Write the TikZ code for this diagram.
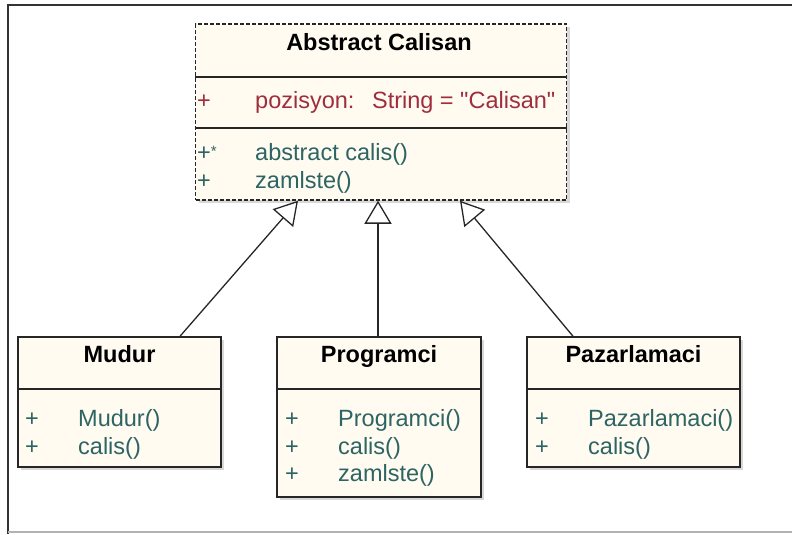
\documentclass[tikz,border=0pt]{standalone}
\usepackage{fontspec}
\setmainfont{Liberation Sans}[Ligatures=TeXOff]
\usetikzlibrary{arrows.meta,shadows}
\definecolor{classfill}{RGB}{255,251,240}
\definecolor{attrred}{RGB}{160,45,60}
\definecolor{opteal}{RGB}{45,100,100}

\begin{document}
\begin{tikzpicture}[x=1pt, y=-1pt, every node/.style={font=\fontsize{23.5}{27}\selectfont, inner sep=0pt},
	classbox/.style={draw=black!85, line width=1.5pt, fill=classfill, drop shadow={shadow xshift=3pt, shadow yshift=-3pt, fill=black!30}},
	title/.style={font=\fontsize{23.5}{27}\selectfont\bfseries, anchor=base},
	vis/.style={anchor=base},
	member/.style={anchor=base west},
	extends/.style={line width=1.3pt, draw=black!85, -{Triangle[open, length=23pt, width=27pt, fill=white]}}]
	\useasboundingbox (0,0) rectangle (792,535);
	% window frame
	\draw[black!80, line width=1.6pt] (8,534) -- (8,5) -- (792,5);
	\draw[black!30, line width=1.2pt] (8,532) -- (792,532);
	% classes
	\node[classbox, dash pattern=on 4pt off 2pt, minimum width=371pt, minimum height=176pt] (calisan) at (381,112) {};
	\node[classbox, minimum width=203pt, minimum height=130pt] (mudur) at (119.5,402) {};
	\node[classbox, minimum width=204pt, minimum height=160pt] (programci) at (379,417) {};
	\node[classbox, minimum width=213pt, minimum height=130pt] (pazarlamaci) at (633.5,402) {};
	\foreach \y in {77,128} {\draw[black!85, line width=1.5pt] (calisan.west |- 0,\y) -- (calisan.east |- 0,\y);}
	\foreach \c in {mudur,programci,pazarlamaci} {\draw[black!85, line width=1.5pt] (\c.west |- 0,389) -- (\c.east |- 0,389);}
	% Abstract Calisan
	\node[title] (c-title) at (379,51) {Abstract Calisan};
	\node[vis, attrred] (c-v1) at (204,108) {+};
	\node[member, attrred] (c-attr) at (255,108) {pozisyon:\hspace{0.75em}String = "Calisan"};
	\node[member, opteal] (c-v2) at (197,160) {+\raisebox{4pt}{\fontsize{15}{15}\selectfont*}};
	\node[member, opteal] (c-op1) at (255,160) {abstract calis()};
	\node[vis, opteal] (c-v3) at (204,188) {+};
	\node[member, opteal] (c-op2) at (255,188) {zamlste()};
	% Mudur
	\node[title] (m-title) at (119.5,362) {Mudur};
	\foreach \y/\txt [count=\i] in {426/{Mudur()}, 454/{calis()}} {
		\node[vis, opteal] (m-v\i) at (32,\y) {+};
		\node[member, opteal] (m-op\i) at (78,\y) {\txt};
	}
	% Programci
	\node[title] (p-title) at (379,362) {Programci};
	\foreach \y/\txt [count=\i] in {426/{Programci()}, 454/{calis()}, 481/{zamlste()}} {
		\node[vis, opteal] (p-v\i) at (292,\y) {+};
		\node[member, opteal] (p-op\i) at (338,\y) {\txt};
	}
	% Pazarlamaci
	\node[title] (z-title) at (633.5,362) {Pazarlamaci};
	\foreach \y/\txt [count=\i] in {426/{Pazarlamaci()}, 454/{calis()}} {
		\node[vis, opteal] (z-v\i) at (542,\y) {+};
		\node[member, opteal] (z-op\i) at (588,\y) {\txt};
	}
	% generalisations
	\draw[extends] ([xshift=60.5pt]mudur.north) -- ([xshift=-83pt]calisan.south);
	\draw[extends] ([xshift=-1pt]programci.north) -- ([xshift=-3pt]calisan.south);
	\draw[extends] ([xshift=-60.5pt]pazarlamaci.north) -- ([xshift=79pt]calisan.south);
\end{tikzpicture}
\end{document}
